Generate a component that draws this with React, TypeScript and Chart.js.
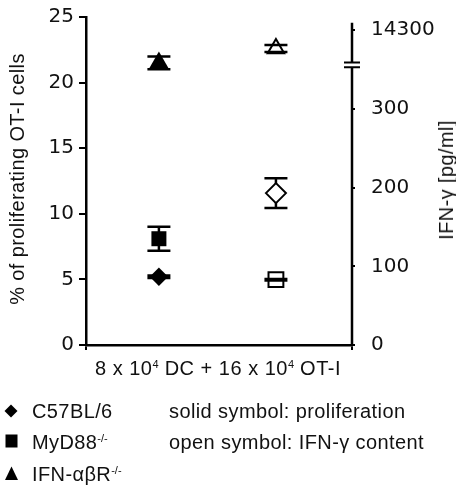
import React, { useEffect, useRef } from 'react';
import { Chart, registerables } from 'chart.js';

Chart.register(...registerables);

// ---------- data ----------
const strains = ['C57BL/6', 'MyD88', 'IFN-αβR'];
const groups = ['proliferation', 'IFN-γ content']; // x index 0 (solid) and 1 (open)
const prolifMean = [5.2, 8.1, 21.5];
const prolifErr = [0.1, 0.92, 0.48];
const ifnMean = [193, 83, 14100];
const ifnErr = [19, 1, 38];
const leftTicks = [0, 5, 10, 15, 20, 25];
const rightTicks = [0, 100, 200, 300, 14300];

// ---------- broken right axis mapping (real pg/ml -> display units) ----------
const BREAK_LOW = 360;
const UPPER_BASE = 14000;
const UPPER_START = 365;
const UPPER_SCALE = 35 / 300;
const toDisplay = (v: number) =>
  v <= BREAK_LOW ? v : UPPER_START + (v - UPPER_BASE) * UPPER_SCALE;
const AXIS_TOP = 409.5;
const BREAK_HI = 359;
const BREAK_LO = 352.8;

const pointStyles = ['rectRot', 'rect', 'triangle'];
const solidRadius = [9.2, 10.6, 11.3];
const openRadius = [10, 10.5, 9.5];

const CAP_HALF = 11.5;

function drawErr(chart: any, part: 'stem' | 'cap') {
  const ctx = chart.ctx;
  ctx.save();
  ctx.strokeStyle = '#000';
  ctx.lineWidth = 2.5;
  chart.data.datasets.forEach((ds: any) => {
    const ys = chart.scales[ds.yAxisID];
    const xs = chart.scales.x;
    ds.data.forEach((pt: any, j: number) => {
      const x = xs.getPixelForValue(pt.x);
      const lo = ys.getPixelForValue(ds.errLow[j]);
      const hi = ys.getPixelForValue(ds.errHigh[j]);
      ctx.beginPath();
      if (part === 'stem') {
        ctx.moveTo(x, lo);
        ctx.lineTo(x, hi);
      } else {
        ctx.moveTo(x - CAP_HALF, lo);
        ctx.lineTo(x + CAP_HALF, lo);
        ctx.moveTo(x - CAP_HALF, hi);
        ctx.lineTo(x + CAP_HALF, hi);
      }
      ctx.stroke();
    });
  });
  ctx.restore();
}

const errPlugin = {
  id: 'errbars',
  beforeDatasetsDraw(chart: any) {
    drawErr(chart, 'stem');
  },
  afterDatasetsDraw(chart: any) {
    drawErr(chart, 'cap');
  },
};

const brokenAxisPlugin = {
  id: 'brokenAxis',
  afterDraw(chart: any) {
    const s = chart.scales.y1;
    const x = chart.chartArea.right;
    const ctx = chart.ctx;
    const yTop = s.getPixelForValue(AXIS_TOP);
    const yHi = s.getPixelForValue(BREAK_HI);
    const yLo = s.getPixelForValue(BREAK_LO);
    const yBot = s.getPixelForValue(0);
    ctx.save();
    ctx.strokeStyle = '#000';
    ctx.lineWidth = 2.5;
    ctx.beginPath();
    ctx.moveTo(x, yTop);
    ctx.lineTo(x, yHi);
    ctx.moveTo(x, yLo);
    ctx.lineTo(x, yBot + 1);
    ctx.stroke();
    ctx.lineWidth = 2;
    ctx.beginPath();
    ctx.moveTo(x - 8, yHi);
    ctx.lineTo(x + 8, yHi);
    ctx.moveTo(x - 8, yLo);
    ctx.lineTo(x + 8, yLo);
    ctx.stroke();
    ctx.restore();
  },
};

const tickFont = { family: '"DejaVu Sans", Verdana, sans-serif', size: 20 };

export default function App() {
  const ref = useRef<HTMLCanvasElement>(null);

  useEffect(() => {
    if (!ref.current) return;
    const datasets: any[] = [];
    strains.forEach((s, i) => {
      datasets.push({
        label: `${s} ${groups[0]}`,
        data: [{ x: 0, y: prolifMean[i] }],
        errLow: [prolifMean[i] - prolifErr[i]],
        errHigh: [prolifMean[i] + prolifErr[i]],
        yAxisID: 'y',
        pointStyle: pointStyles[i],
        pointRadius: solidRadius[i],
        backgroundColor: '#000',
        borderColor: '#000',
        borderWidth: 0,
        showLine: false,
      });
      datasets.push({
        label: `${s} ${groups[1]}`,
        data: [{ x: 1, y: toDisplay(ifnMean[i]) }],
        errLow: [toDisplay(ifnMean[i] - ifnErr[i])],
        errHigh: [toDisplay(ifnMean[i] + ifnErr[i])],
        yAxisID: 'y1',
        pointStyle: pointStyles[i],
        pointRadius: openRadius[i],
        backgroundColor: '#fff',
        borderColor: '#000',
        borderWidth: 2,
        showLine: false,
      });
    });

    const noPad = (sc: any, w: number) => {
      sc.width = w;
      sc.paddingTop = 0;
      sc.paddingBottom = 0;
    };

    const chart = new Chart(ref.current, {
      type: 'scatter',
      data: { datasets },
      options: {
        responsive: false,
        animation: false,
        events: [],
        layout: { padding: { top: 17, left: 0, right: 0, bottom: 0 } },
        plugins: { legend: { display: false }, tooltip: { enabled: false } },
        scales: {
          x: {
            type: 'linear',
            min: -0.623,
            max: 1.65,
            afterBuildTicks: (sc: any) => {
              sc.ticks = [{ value: sc.min }, { value: sc.max }];
            },
            afterFit: (sc: any) => {
              sc.height = 147;
              sc.paddingLeft = 0;
              sc.paddingRight = 0;
            },
            ticks: { display: false },
            grid: { drawOnChartArea: false, tickLength: 5, color: '#000', lineWidth: 2 },
            border: { display: true, color: '#000', width: 2.5 },
          },
          y: {
            type: 'linear',
            position: 'left',
            min: 0,
            max: 25,
            afterBuildTicks: (sc: any) => {
              sc.ticks = leftTicks.map((v) => ({ value: v }));
            },
            afterFit: (sc: any) => noPad(sc, 86),
            ticks: { font: tickFont, color: '#111', padding: 5, autoSkip: false },
            grid: { drawOnChartArea: false, tickLength: 7, color: '#000', lineWidth: 2 },
            border: { display: true, color: '#000', width: 2.5 },
          },
          y1: {
            type: 'linear',
            position: 'right',
            min: 0,
            max: 416.8,
            afterBuildTicks: (sc: any) => {
              sc.ticks = rightTicks.map((v) => ({ value: toDisplay(v) }));
            },
            afterFit: (sc: any) => noPad(sc, 104),
            ticks: {
              font: tickFont,
              color: '#111',
              padding: 16,
              autoSkip: false,
              callback: (_v: any, idx: number) => String(rightTicks[idx]),
            },
            grid: { drawOnChartArea: false, tickLength: 3, color: '#000', lineWidth: 2 },
            border: { display: false },
          },
        },
      } as any,
      plugins: [errPlugin, brokenAxisPlugin],
    });
    return () => chart.destroy();
  }, []);

  const txt: React.CSSProperties = {
    position: 'absolute',
    fontSize: 20,
    lineHeight: '20px',
    whiteSpace: 'nowrap',
    letterSpacing: '0.4px',
  };
  const sup: React.CSSProperties = {
    fontSize: 11,
    position: 'relative',
    top: -7,
    letterSpacing: 0,
  };

  return (
    <div
      style={{
        position: 'fixed',
        left: 0,
        top: 0,
        width: 456,
        height: 492,
        background: '#fff',
        overflow: 'hidden',
        fontFamily: '"Liberation Sans", Arial, sans-serif',
        color: '#111',
      }}
    >
      <canvas
        ref={ref}
        width={456}
        height={492}
        style={{ position: 'absolute', left: 0, top: 0, width: 456, height: 492 }}
      />
      {/* left axis title */}
      <div
        style={{
          ...txt,
          left: 17,
          top: 179,
          transform: 'translate(-50%, -50%) rotate(-90deg)',
        }}
      >
        % of proliferating OT-I cells
      </div>
      {/* right axis title */}
      <div
        style={{
          ...txt,
          left: 446,
          top: 180,
          transform: 'translate(-50%, -50%) rotate(-90deg)',
        }}
      >
        IFN-γ [pg/ml]
      </div>
      {/* x label */}
      <div style={{ ...txt, left: 218, top: 358, transform: 'translateX(-50%)', letterSpacing: '0.5px' }}>
        8 x 10<span style={sup}>4</span> DC + 16 x 10<span style={sup}>4</span> OT-I
      </div>
      {/* legend */}
      <svg width={20} height={90} style={{ position: 'absolute', left: 0, top: 400 }}>
        <polygon points="11,4.5 17.5,11 11,17.5 4.5,11" fill="#000" />
        <rect x={5.5} y={34.5} width={12} height={13} fill="#000" />
        <polygon points="11.5,66.5 18,80 5,80" fill="#000" />
      </svg>
      <div style={{ ...txt, left: 32, top: 401 }}>{strains[0]}</div>
      <div style={{ ...txt, left: 32, top: 431.5 }}>
        {strains[1]}
        <span style={sup}>-/-</span>
      </div>
      <div style={{ ...txt, left: 32, top: 464 }}>
        {strains[2]}
        <span style={sup}>-/-</span>
      </div>
      <div style={{ ...txt, left: 169, top: 401 }}>solid symbol: {groups[0]}</div>
      <div style={{ ...txt, left: 169, top: 431.5 }}>open symbol: {groups[1]}</div>
    </div>
  );
}
